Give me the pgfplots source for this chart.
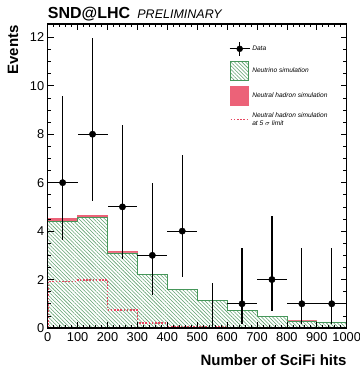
\documentclass[border=0pt]{standalone}
\usepackage{pgfplots}
\pgfplotsset{compat=1.18}
\usepackage{fontspec}
\setmainfont{Liberation Sans}
\usetikzlibrary{patterns.meta}
\definecolor{nured}{RGB}{236,98,120}
\definecolor{dotred}{RGB}{230,70,95}
\definecolor{nugreen}{RGB}{70,150,90}
\definecolor{hatchgreen}{RGB}{95,160,110}
\tikzset{nuhatch/.style={pattern={Lines[angle=-45,distance=2.6bp,line width=0.55bp]},pattern color=hatchgreen}}
\begin{document}
\begin{tikzpicture}
\begin{axis}[
  scale only axis,
  width=299bp, height=304bp,
  xmin=0, xmax=1000, ymin=0, ymax=12.55,
  xtick distance=100, minor x tick num=4,
  ytick distance=2, minor y tick num=3,
  tick align=inside,
  major tick length=6bp, minor tick length=3.5bp,
  axis line style={line width=1.4bp},
  every tick/.style={black, line width=0.7bp},
  axis on top,
  clip=false,
  /pgf/number format/assume math mode=true,
  /pgf/number format/1000 sep={},
  ticklabel style={font=\fontsize{12.8bp}{14bp}\selectfont},
  xticklabel style={yshift=-1bp},
  legend style={draw=none, fill=none, at={(rel axis cs:0.606,0.944)}, anchor=north west,
    font=\fontsize{6.6bp}{8bp}\selectfont\itshape, inner sep=0pt, row sep=5bp,
    cells={align=left}},
  legend cell align=left,
]
\addlegendimage{legend image code/.code={
  \draw[black,line width=1.2bp] (0bp,0bp) -- (20bp,0bp);
  \draw[black,line width=1.2bp] (10bp,-7bp) -- (10bp,7bp);
  \fill[black] (10bp,0bp) circle (3bp);}}
\addlegendentry{Data}
\addlegendimage{legend image code/.code={
  \draw[nugreen,line width=0.7bp,fill=white,postaction={nuhatch}] (1bp,-9.5bp) rectangle (19bp,9.5bp);}}
\addlegendentry{Neutrino simulation}
\addlegendimage{legend image code/.code={
  \fill[nured] (1bp,-9.5bp) rectangle (19bp,9.5bp);}}
\addlegendentry{Neutral hadron simulation}
\addlegendimage{legend image code/.code={
  \draw[draw=dotred,line width=1.6bp,dash pattern=on 1.6bp off 1.6bp] (1bp,0bp) -- (19bp,0bp);}}
\addlegendentry{Neutral hadron simulation\\at 5 $\sigma$ limit}

% total (neutrino + neutral hadron)
\addplot[const plot, fill=nured, draw=nured, line width=0.8bp, forget plot] coordinates {
(0,4.52) (100,4.63) (200,3.17) (300,2.22) (400,1.61) (500,1.13) (600,0.74) (700,0.49) (800,0.30) (900,0.22) (1000,0.22)} \closedcycle;
% neutrino
\addplot[const plot, fill=white, postaction={nuhatch}, draw=nugreen, line width=0.8bp, forget plot] coordinates {
(0,4.40) (100,4.56) (200,3.10) (300,2.20) (400,1.59) (500,1.12) (600,0.73) (700,0.48) (800,0.29) (900,0.22) (1000,0.22)} \closedcycle;
% neutral hadron at 5 sigma
\addplot[const plot, draw=dotred, line width=1.6bp, dash pattern=on 1.6bp off 1.6bp, forget plot] coordinates {
(0,0) (0,1.92) (100,1.98) (200,0.75) (300,0.20) (400,0.07) (500,0.03) (600,0.02) (700,0.01) (800,0.01) (900,0.01) (1000,0.01)};
% data
\addplot[only marks, mark=*, mark size=3.2bp, black, forget plot,
  error bars/.cd, x dir=both, x explicit, y dir=both, y explicit,
  error mark=none, error bar style={line width=1.2bp, black, solid}]
  table[x=x, y=y, x error=ex, y error plus=eyp, y error minus=eym] {
x y ex eyp eym
50 6 50 3.58 2.38
150 8 50 3.98 2.77
250 5 50 3.38 2.16
350 3 50 3.00 1.63
450 4 50 3.16 1.91
650 1 50 2.30 0.83
750 2 50 2.64 1.29
850 1 50 2.30 0.83
950 1 50 2.30 0.83
};
\addplot[draw=none, mark=none, forget plot,
  error bars/.cd, y dir=plus, y explicit, error mark=none, error bar style={line width=1.2bp, black}]
  table[x=x, y=y, y error plus=eyp] {
x y eyp
550 0 1.84
};

\node[anchor=base west, inner sep=0pt, font=\fontsize{16bp}{18bp}\selectfont\bfseries] at ([yshift=5bp]rel axis cs:0,1) {SND@LHC};
\node[anchor=base west, inner sep=0pt, font=\fontsize{12.5bp}{14bp}\selectfont\itshape] at ([xshift=89.5bp,yshift=5bp]rel axis cs:0,1) {PRELIMINARY};
\node[anchor=base east, inner sep=0pt, font=\fontsize{15bp}{17bp}\selectfont\bfseries] at ([yshift=-37bp]rel axis cs:1,0) {Number of SciFi hits};
\node[anchor=base east, rotate=90, inner sep=0pt, font=\fontsize{15bp}{17bp}\selectfont\bfseries] at ([xshift=-29.5bp,yshift=-1bp]rel axis cs:0,1) {Events};
\end{axis}
\pgfresetboundingbox
\path[use as bounding box] ([shift={(-47.7bp,-40bp)}]current axis.south west) rectangle ([shift={(13.3bp,24bp)}]current axis.north east);
\end{tikzpicture}
\end{document}
